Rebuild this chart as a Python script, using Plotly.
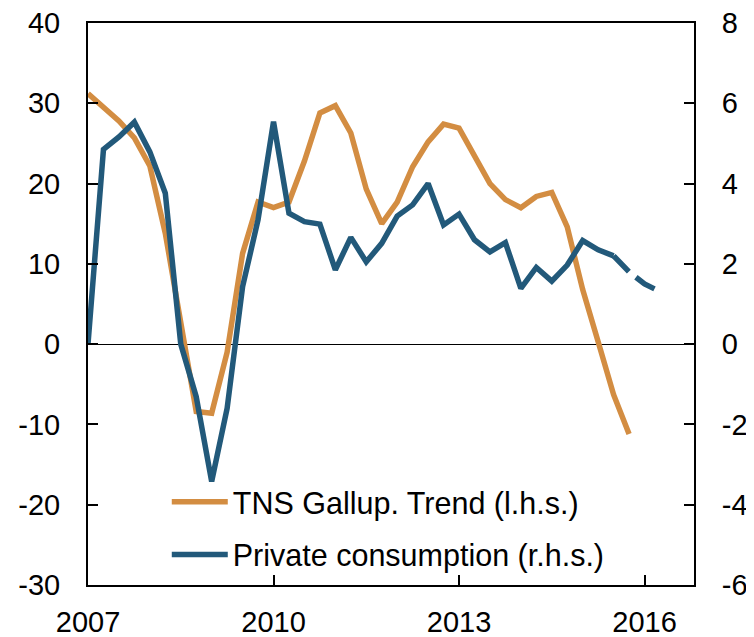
import plotly.graph_objects as go

# Quarterly dates (decimal years), 2007Q1 onwards
start_year = 2007
gallup_trend = [31.2, 29.5, 27.8, 25.7, 22.2, 13.8, 3.0, -8.4, -8.6, -1.0,
                11.3, 17.7, 17.0, 17.7, 22.8, 28.8, 29.7, 26.3, 19.3, 15.0,
                17.7, 22.1, 25.2, 27.4, 26.9, 23.6, 20.0, 18.0, 17.0, 18.4,
                18.9, 14.6, 6.8, 0.3, -6.3, -11.2]
private_consumption = [0.0, 4.85, 5.16, 5.53, 4.79, 3.76, 0.0, -1.31, -3.42, -1.6,
                       1.43, 3.1, 5.54, 3.26, 3.05, 2.99, 1.85, 2.66, 2.05, 2.51,
                       3.19, 3.47, 4.0, 2.97, 3.24, 2.6, 2.3, 2.53, 1.39, 1.91,
                       1.57, 1.97, 2.58, 2.35, 2.2]
consumption_projection = [2.2, 1.8, 1.5, 1.31]  # from last observed quarter onward

x_ticks = [2007, 2010, 2013, 2016]
left_ticks = [-30, -20, -10, 0, 10, 20, 30, 40]
right_ticks = [-6, -4, -2, 0, 2, 4, 6, 8]

ORANGE = "#D38D42"
BLUE = "#22597A"

def qx(i):
    return start_year + i / 4

x_g = [qx(i) for i in range(len(gallup_trend))]
x_c = [qx(i) for i in range(len(private_consumption))]
n0 = len(private_consumption) - 1
x_p = [qx(n0 + i) for i in range(len(consumption_projection))]

fig = go.Figure()
fig.add_trace(go.Scatter(x=x_g, y=gallup_trend, mode="lines",
                         line=dict(color=ORANGE, width=5.5),
                         name="TNS Gallup. Trend (l.h.s.)", legendgroup="a"))
fig.add_trace(go.Scatter(x=x_c, y=private_consumption, mode="lines",
                         line=dict(color=BLUE, width=5.5), yaxis="y2",
                         name="Private consumption (r.h.s.)", legendgroup="b"))
fig.add_trace(go.Scatter(x=x_p, y=consumption_projection, mode="lines",
                         line=dict(color=BLUE, width=5.5, dash="22px,9px"), yaxis="y2",
                         showlegend=False, legendgroup="b"))

font_family = "Liberation Sans, Arial, sans-serif"

# The page body adds an 8px margin, so the figure is 8px smaller than the window.
fig.update_layout(
    width=746, height=629,
    margin=dict(l=80, r=60, t=15, b=52),
    paper_bgcolor="white", plot_bgcolor="white",
    font=dict(family=font_family, size=29, color="black"),
    showlegend=True,
    legend=dict(x=0.130, y=0.195, xanchor="left", yanchor="top",
                bgcolor="rgba(0,0,0,0)", font=dict(size=30.5),
                tracegroupgap=10, itemwidth=56),
    xaxis=dict(range=[2007, 2016.8], tickvals=x_ticks, ticktext=[str(t) for t in x_ticks],
               ticks="inside", ticklen=10, tickwidth=1.5, tickcolor="black",
               showline=True, linecolor="black", linewidth=2, mirror=True,
               showgrid=False, zeroline=False, ticklabelstandoff=10, automargin=False,
               ticklabeloverflow="allow"),
    yaxis=dict(range=[-30, 40], tickvals=left_ticks, ticktext=[str(t) for t in left_ticks],
               ticks="inside", ticklen=10, tickwidth=1.5, tickcolor="black",
               showline=True, linecolor="black", linewidth=2,
               showgrid=False, zeroline=True, zerolinecolor="black", zerolinewidth=1.2,
               ticklabelstandoff=20, automargin=False, ticklabeloverflow="allow"),
    yaxis2=dict(range=[-6, 8], tickvals=right_ticks, ticktext=[str(t) for t in right_ticks],
                overlaying="y", side="right",
                ticks="inside", ticklen=10, tickwidth=1.5, tickcolor="black",
                showline=True, linecolor="black", linewidth=2,
                showgrid=False, zeroline=False, ticklabelstandoff=20, automargin=False,
                ticklabeloverflow="allow"),
)

fig.write_html("out.html")
